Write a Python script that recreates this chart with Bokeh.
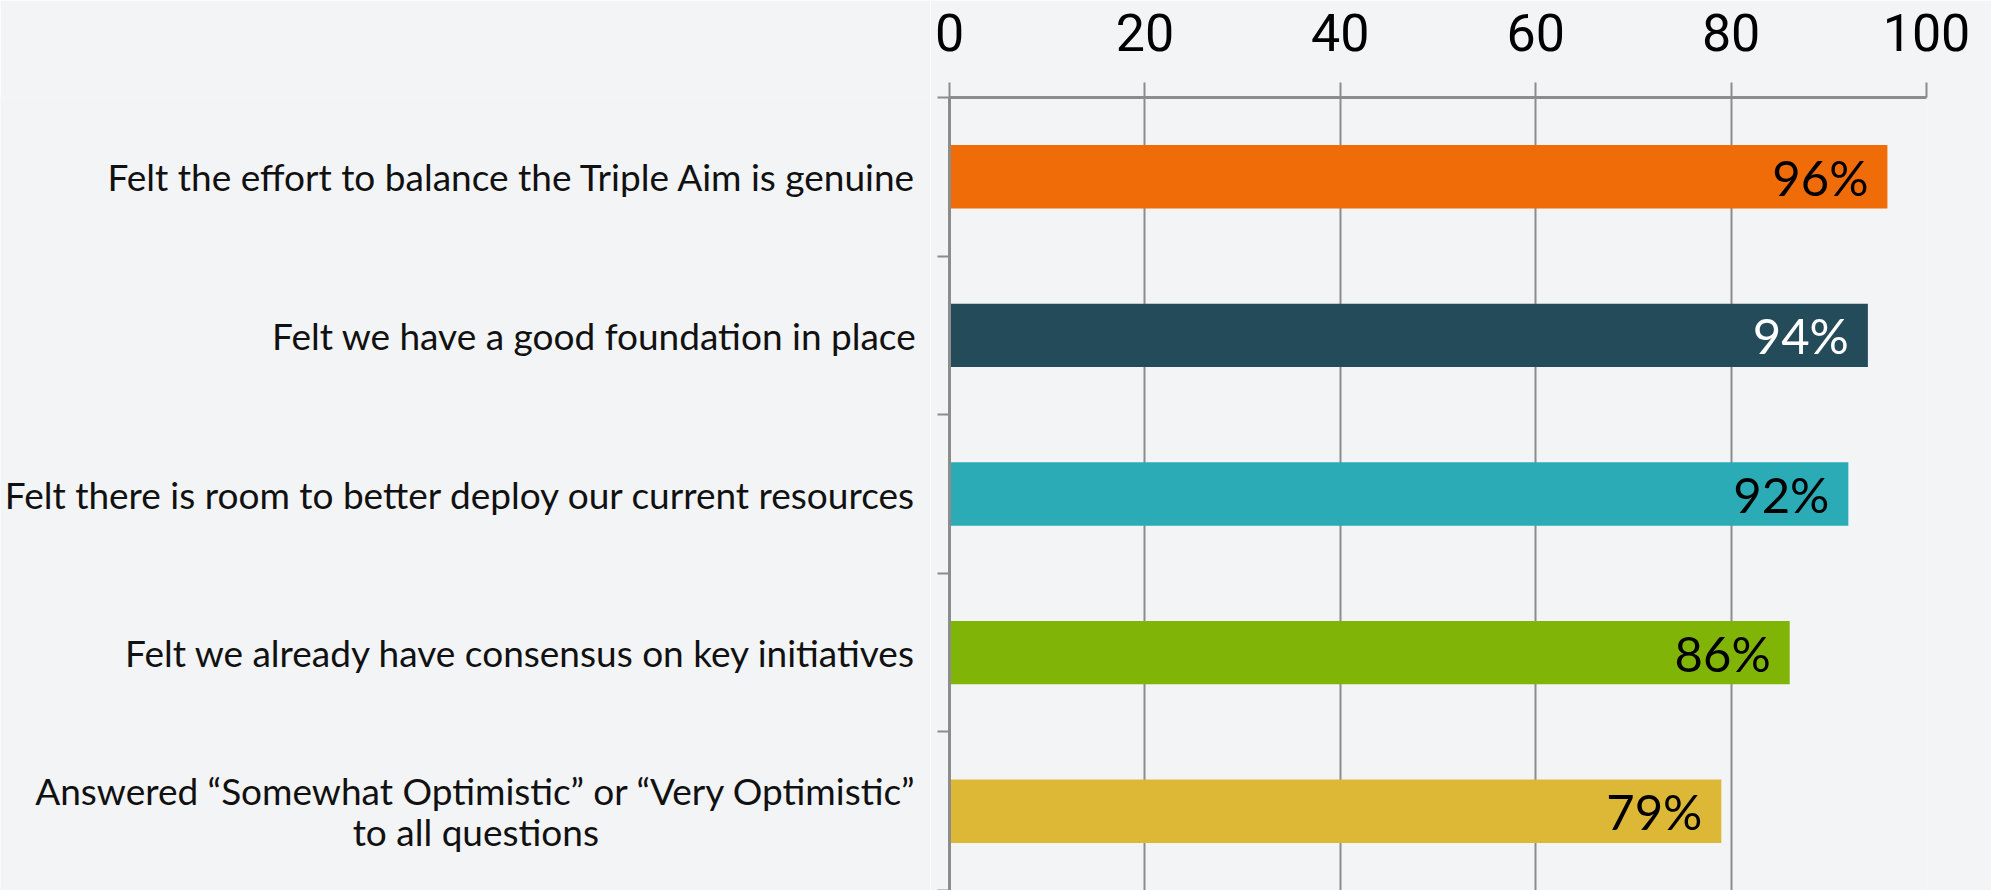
from bokeh.plotting import figure
from bokeh.models import ColumnDataSource, Range1d, FixedTicker
from bokeh.layouts import row
from bokeh.core.properties import value
from bokeh.embed import file_html
from bokeh.resources import INLINE

categories = [
    "Felt the effort to balance the Triple Aim is genuine",
    "Felt we have a good foundation in place",
    "Felt there is room to better deploy our current resources",
    "Felt we already have consensus on key initiatives",
    "Answered \u201cSomewhat Optimistic\u201d or \u201cVery Optimistic\u201d\nto all questions",
]
values = [96, 94, 92, 86, 79]
bar_colors = ["#EF6C08", "#244B5A", "#2AABB5", "#80B507", "#DDB836"]
label_colors = ["#000000", "#FFFFFF", "#000000", "#000000", "#000000"]
x_ticks = [0, 20, 40, 60, 80, 100]

n = len(categories)
centers = [i + 0.5 for i in range(n)]
bounds = [float(i) for i in range(n + 1)]

src = ColumnDataSource(dict(
    y=centers, v=values, c=bar_colors, tc=label_colors,
    lbl=[f"{v}%" for v in values], cat=categories,
))

BG = "#f3f4f6"
GRAY = "#8c8c8c"
yr = Range1d(n, 0)

# left panel holding the category labels
LW = 930
left = figure(width=LW, height=890, x_range=Range1d(0, LW), y_range=yr,
              x_axis_type=None, y_axis_type=None, output_backend="svg", toolbar_location=None,
              min_border_left=0, min_border_right=0, min_border_top=97, min_border_bottom=0)
left.background_fill_color = BG
left.border_fill_color = BG
left.outline_line_color = None
left.grid.visible = False
left.text(x=LW - 14, y="y", text="cat", source=src, anchor=value("center_right"),
          text_align="center", text_baseline="middle", text_color="#111111",
          text_font=value("Lato"), text_font_size="37px", text_line_height=0.92)

p = figure(width=1991 - LW, height=890, x_range=Range1d(0, 100), y_range=yr,
           x_axis_location="above", output_backend="svg", toolbar_location=None,
           min_border_left=19, min_border_top=97, min_border_right=65, min_border_bottom=0)
p.background_fill_color = BG
p.border_fill_color = BG
p.outline_line_color = None

p.hbar(y="y", left=0, right="v", height=0.4, fill_color="c", line_color=None, source=src)
p.text(x="v", y="y", text="lbl", x_offset=-19, text_align="right", text_baseline="middle",
       text_color="tc", text_font=value("Lato"), text_font_size="49px", source=src)

xa = p.xaxis[0]
xa.ticker = FixedTicker(ticks=x_ticks)
xa.axis_line_color = GRAY
xa.axis_line_width = 3
xa.major_tick_line_color = GRAY
xa.major_tick_line_width = 2
xa.major_tick_out = 15
xa.major_tick_in = 0
xa.minor_tick_line_color = None
xa.major_label_text_font = "Roboto"
xa.major_label_text_font_size = "52px"
xa.major_label_text_color = "#000000"
xa.major_label_standoff = 32

ya = p.yaxis[0]
ya.ticker = FixedTicker(ticks=[], minor_ticks=bounds)
ya.axis_line_color = GRAY
ya.axis_line_width = 3
ya.major_tick_line_color = None
ya.major_tick_out = 0
ya.major_tick_in = 0
ya.minor_tick_line_color = GRAY
ya.minor_tick_line_width = 2
ya.minor_tick_out = 12
ya.minor_tick_in = 0
ya.major_label_standoff = 0

p.xgrid.ticker = FixedTicker(ticks=x_ticks)
p.xgrid.grid_line_color = GRAY
p.xgrid.grid_line_width = 2
p.ygrid.grid_line_color = None

layout = row(left, p)
open("out.html", "w").write(file_html(layout, INLINE))
